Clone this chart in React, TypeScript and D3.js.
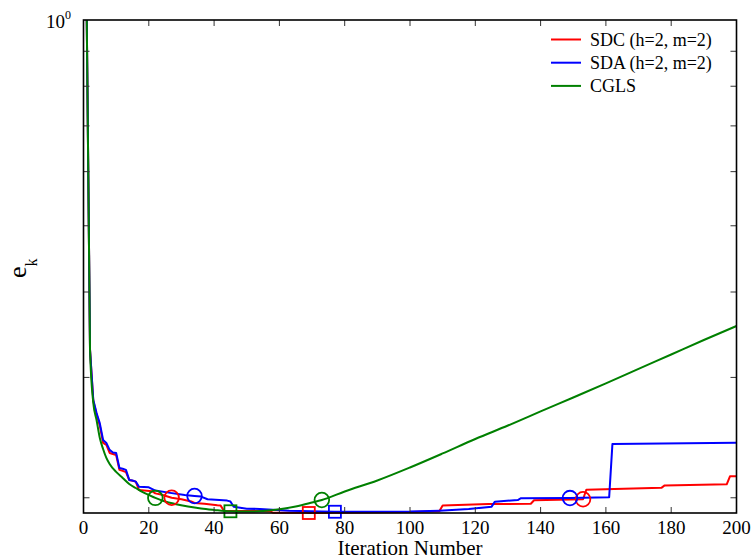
import React from 'react';
import * as d3 from 'd3';

const WIDTH = 753;
const HEIGHT = 559;
const PLOT = { left: 83.5, right: 736.5, top: 20, bottom: 513 };

const xDomain: [number, number] = [0, 200];
const yDomain: [number, number] = [0.19, 1];
const xTickValues = [0, 20, 40, 60, 80, 100, 120, 140, 160, 180, 200];
const yMinorTicks = [0.2, 0.3, 0.4, 0.5, 0.6, 0.7, 0.8, 0.9];

// error e_k per iteration k
const sdcErrors: [number, number][] = [
  [1, 1.0], [2, 0.329], [3, 0.277], [4, 0.265], [5, 0.255], [6, 0.2406], [7, 0.239],
  [8, 0.2326], [9, 0.2318], [10, 0.231], [11, 0.2197], [12, 0.219], [13, 0.218],
  [14, 0.2124], [15, 0.2118], [16, 0.2112], [17, 0.2053], [21, 0.2045], [22, 0.203],
  [24, 0.202], [27, 0.2], [30, 0.199], [33, 0.1975], [34, 0.1965], [37, 0.196],
  [41, 0.195], [42, 0.1948], [43, 0.1915], [57, 0.1912], [58, 0.1902], [68, 0.1901],
  [69, 0.19], [85, 0.1903], [100, 0.1906], [109, 0.1912], [110, 0.1948], [124, 0.1958],
  [137, 0.196], [138, 0.1983], [153, 0.199], [154, 0.2055], [177, 0.2068], [178, 0.2085],
  [197, 0.2093], [198, 0.215], [200, 0.215],
];

const sdaErrors: [number, number][] = [
  [1, 1.0], [2, 0.329], [3, 0.278], [4, 0.266], [5, 0.257], [6, 0.243], [7, 0.2405],
  [8, 0.235], [9, 0.233], [10, 0.2325], [11, 0.2211], [12, 0.2205], [13, 0.2197],
  [14, 0.2124], [15, 0.212], [16, 0.2112], [17, 0.2076], [20, 0.2072], [22, 0.2049],
  [26, 0.2035], [31, 0.2019], [34, 0.2012], [36, 0.2008], [38, 0.199], [44, 0.1981],
  [45, 0.1975], [46, 0.1941], [50, 0.1928], [54, 0.1926], [63, 0.1915], [73, 0.1909],
  [77, 0.1908], [100, 0.1909], [109, 0.1915], [118, 0.1925], [125, 0.1941], [126, 0.1974],
  [133, 0.1985], [134, 0.1997], [149, 0.1998], [161, 0.2004], [162, 0.2398], [200, 0.2408],
];

const cglsErrors: [number, number][] = [
  [1, 1.0], [2, 0.3291], [3, 0.2753], [4, 0.2599], [5, 0.2446], [6, 0.2357], [7, 0.2287],
  [8, 0.2241], [10, 0.2182], [12, 0.2138], [14, 0.2095], [16, 0.2067], [18, 0.204],
  [20, 0.2019], [22, 0.1999], [25, 0.1975], [28, 0.1959], [32, 0.1942], [36, 0.1929],
  [40, 0.192], [45, 0.1911], [50, 0.1909], [55, 0.1913], [60, 0.1924], [65, 0.1942],
  [70, 0.1968], [73, 0.1985], [80, 0.2043], [90, 0.212], [100, 0.2215], [110, 0.2322],
  [120, 0.2438], [130, 0.2551], [140, 0.2675], [150, 0.2804], [160, 0.294], [170, 0.3087],
  [180, 0.3241], [190, 0.3403], [200, 0.3567],
];

// iterations flagged with circles and squares on each curve
const sdcCircles = [27, 153];
const sdaCircles = [34, 149];
const cglsCircles = [22, 73];
const sdcSquares = [69];
const sdaSquares = [77];
const cglsSquares = [45];

const seriesNames = ['SDC (h=2, m=2)', 'SDA (h=2, m=2)', 'CGLS'];

const FONT = 'Liberation Serif';

export default function App() {
  const x = d3.scaleLinear().domain(xDomain).range([PLOT.left, PLOT.right]);
  const y = d3.scaleLog().domain(yDomain).range([PLOT.bottom, PLOT.top]);

  const linear = d3
    .line<[number, number]>()
    .x((d) => x(d[0]))
    .y((d) => y(d[1]));
  const smooth = d3
    .line<[number, number]>()
    .x((d) => x(d[0]))
    .y((d) => y(d[1]))
    .curve(d3.curveMonotoneX);

  const series = [
    { name: seriesNames[0], color: '#ff0000', data: sdcErrors, path: linear(sdcErrors), circles: sdcCircles, squares: sdcSquares },
    { name: seriesNames[1], color: '#0000ff', data: sdaErrors, path: linear(sdaErrors), circles: sdaCircles, squares: sdaSquares },
    { name: seriesNames[2], color: '#008000', data: cglsErrors, path: smooth(cglsErrors), circles: cglsCircles, squares: cglsSquares },
  ];

  const valueAt = (data: [number, number][], k: number) => {
    const p = data.find((d) => d[0] === k);
    return p ? p[1] : data[0][1];
  };

  const tickLen = 6;
  const tickColor = '#333';
  const txt = (size: number): React.CSSProperties => ({ fontFamily: FONT, fontSize: size });

  return (
    <svg width={WIDTH} height={HEIGHT} style={{ position: 'absolute', left: 0, top: 0, background: '#fff' }}>
      <rect x={0} y={0} width={WIDTH} height={HEIGHT} fill="#fff" />

      {/* curves */}
      {series.map((s) => (
        <path key={s.name} d={s.path ?? ''} fill="none" stroke={s.color} strokeWidth={2} strokeLinejoin="round" />
      ))}

      {/* markers */}
      {series.map((s) => (
        <g key={s.name + '-m'} fill="none" stroke={s.color} strokeWidth={1.8}>
          {s.circles.map((k) => (
            <circle key={'c' + k} cx={x(k)} cy={y(valueAt(s.data, k))} r={7.3} />
          ))}
          {s.squares.map((k) => (
            <rect key={'s' + k} x={x(k) - 6} y={y(valueAt(s.data, k)) - 6} width={12} height={12} />
          ))}
        </g>
      ))}

      {/* ticks on all four sides */}
      <g stroke={tickColor} strokeWidth={1}>
        {xTickValues.slice(1, -1).map((t) => (
          <g key={'xt' + t}>
            <line x1={x(t)} x2={x(t)} y1={PLOT.bottom} y2={PLOT.bottom - tickLen} />
            <line x1={x(t)} x2={x(t)} y1={PLOT.top} y2={PLOT.top + tickLen} />
          </g>
        ))}
        {yMinorTicks.map((t) => (
          <g key={'yt' + t}>
            <line x1={PLOT.left} x2={PLOT.left + tickLen} y1={y(t)} y2={y(t)} />
            <line x1={PLOT.right} x2={PLOT.right - tickLen} y1={y(t)} y2={y(t)} />
          </g>
        ))}
      </g>

      {/* axes box */}
      <rect
        x={PLOT.left}
        y={PLOT.top}
        width={PLOT.right - PLOT.left}
        height={PLOT.bottom - PLOT.top}
        fill="none"
        stroke="#000"
        strokeWidth={1.6}
      />

      {/* x tick labels */}
      <g textAnchor="middle" fill="#000">
        {xTickValues.map((t) => (
          <text key={'xl' + t} x={x(t)} y={534} style={txt(19)}>
            {t}
          </text>
        ))}
      </g>

      {/* y top label */}
      <text x={46} y={28} style={txt(19)} fill="#000">
        10
        <tspan dy={-9} style={txt(12)}>
          0
        </tspan>
      </text>

      {/* axis titles */}
      <text x={410} y={555} style={txt(21)} textAnchor="middle" fill="#000">
        Iteration Number
      </text>
      <text transform="translate(26,278) rotate(-90)" style={txt(26)} fill="#000">
        e
        <tspan dy={11} style={txt(16)}>
          k
        </tspan>
      </text>

      {/* legend */}
      <g fill="#000">
        {series.map((s, i) => {
          const ly = 39.5 + i * 23.2;
          return (
            <g key={'lg' + i}>
              <line x1={551} x2={581} y1={ly} y2={ly} stroke={s.color} strokeWidth={2} />
              <text x={590} y={ly + 6} style={txt(18)}>
                {s.name}
              </text>
            </g>
          );
        })}
      </g>
    </svg>
  );
}
